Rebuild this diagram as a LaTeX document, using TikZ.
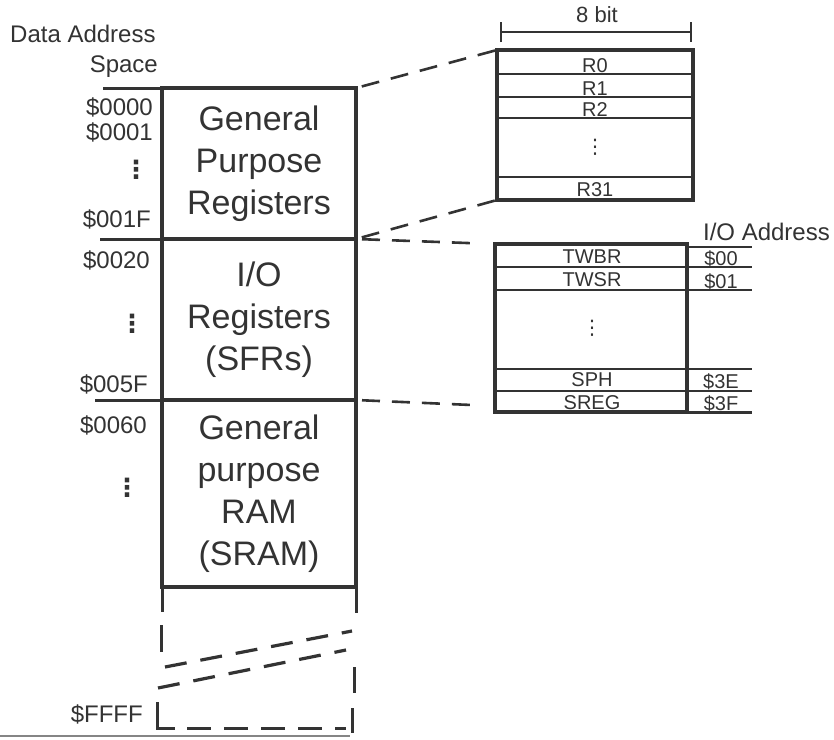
\documentclass[tikz,border=0pt]{standalone}
\usepackage{fontspec}
\setmainfont{Liberation Sans}
\newfontfamily\djv{DejaVu Sans}
\usetikzlibrary{arrows.meta,calc}
\definecolor{ink}{HTML}{333333}
\begin{document}
\begin{tikzpicture}[x=1pt,y=-1pt,
  every node/.style={text=ink},
  memblock/.style={draw=ink,line width=4.8pt,minimum width=194pt,inner sep=0pt,outer sep=0pt,align=center,
     font=\fontsize{34}{42}\selectfont},
  regblock/.style={draw=ink,line width=4.2pt,inner sep=0pt,outer sep=0pt},
  addr/.style={font=\fontsize{24}{24}\selectfont,anchor=base east,inner sep=0pt},
  small/.style={font=\fontsize{20}{20}\selectfont,anchor=base,inner sep=0pt},
  thinline/.style={draw=ink,line width=1.8pt},
  tick/.style={draw=ink,line width=3pt},
  conn/.style={draw=ink,line width=2.6pt,dash pattern=on 18pt off 12pt},
  brk/.style={draw=ink,line width=3.2pt,dash pattern=on 22pt off 14pt},
  dotcol/.style={font=\djv\bfseries\fontsize{25}{25}\selectfont,inner sep=0pt},
  dotsm/.style={font=\djv\fontsize{20}{20}\selectfont,inner sep=0pt}]
\useasboundingbox[fill=white] (0,0) rectangle (834,739);

% main memory map
\node[memblock,minimum height=151pt] (gpr) at (259,163.5) {General\\Purpose\\Registers};
\node[memblock,minimum height=161pt] (io) at (259,319.5) {I/O\\Registers\\(SFRs)};
\node[memblock,minimum height=187pt] (sram) at (259,493.5) {General\\purpose\\RAM\\(SRAM)};

% left ticks
\coordinate (t0) at (103,88);
\coordinate (t1) at (100,239);
\coordinate (t2) at (95,400);
\draw[tick] (t0) -- (gpr.north west);
\draw[tick] (t1) -- (gpr.south west);
\draw[tick] (t2) -- (io.south west);

% left labels
\node[font=\fontsize{24}{24}\selectfont,anchor=base west,inner sep=0pt] (das) at (10,42) {Data Address};
\node[addr] (spc) at (158,72) {Space};
\node[addr] (a0) at (153,115) {\$0000};
\node[addr] (a1) at (153,140) {\$0001};
\node[dotcol] (d1) at (136,170) {⋮};
\node[addr] (a1f) at (151,227) {\$001F};
\node[addr] (a20) at (150,268) {\$0020};
\node[dotcol] (d2) at (132,324) {⋮};
\node[addr] (a5f) at (148,392) {\$005F};
\node[addr] (a60) at (147,433) {\$0060};
\node[dotcol] (d3) at (127,488) {⋮};
\node[addr] (aff) at (143,722) {\$FFFF};

% broken continuation below SRAM
\coordinate (sl1) at (162,612);
\coordinate (sr1) at (356,613);
\draw[tick] (sram.south west) -- (sl1);
\draw[tick] (sram.south east) -- (sr1);
\coordinate (l2a) at (161,625);
\coordinate (l2b) at (161,652);
\draw[tick] (l2a) -- (l2b);
\coordinate (u1) at (165,667);
\coordinate (u2) at (352,631);
\coordinate (w1) at (158,688);
\coordinate (w2) at (346,650);
\draw[brk] (u1) -- (u2);
\draw[brk] (w1) -- (w2);
\coordinate (r2a) at (354,667);
\coordinate (r2b) at (354,693);
\draw[tick] (r2a) -- (r2b);
\coordinate (b1) at (157,702);
\coordinate (b2) at (157,728);
\coordinate (b3) at (175,728);
\draw[tick] (b1) -- (b2) -- (b3);
\coordinate (b4) at (187,728);
\coordinate (b5) at (346,728);
\draw[tick,dash pattern=on 24pt off 13pt] (b4) -- (b5);
\coordinate (r3a) at (352,708);
\coordinate (r3b) at (352,733);
\draw[tick] (r3a) -- (r3b);

% page rule
\coordinate (pr1) at (0,736);
\coordinate (pr2) at (350,736);
\draw[ink!60,line width=1.5pt] (pr1) -- (pr2);

% register file
\node[regblock,minimum width=196pt,minimum height=150pt] (regs) at (595,125) {};
\foreach \yy in {74,97,118,177} \draw[thinline] (regs.west |- 0,\yy) -- (regs.east |- 0,\yy);
\node[small] (r0) at (595,72) {R0};
\node[small] (r1) at (595,95) {R1};
\node[small] (r2) at (595,116) {R2};
\node[dotsm] (rd) at (595,147) {⋮};
\node[small] (r31) at (595,196) {R31};

% 8 bit dimension
\coordinate (bl) at (500,32);
\coordinate (br) at (692,32);
\draw[draw=ink,line width=2.2pt,{Bar[width=20pt,line width=2.2pt]}-{Bar[width=20pt,line width=2.2pt]}] (bl) -- (br);
\node[font=\fontsize{22}{22}\selectfont,anchor=base,inner sep=0pt] (eb) at (597,22) {8 bit};

% I/O register file
\node[regblock,minimum width=192pt,minimum height=168pt] (iob) at (591,328) {};
\foreach \yy in {267,290,369,391} \draw[thinline] (iob.west |- 0,\yy) -- (iob.east |- 0,\yy);
\foreach \yy in {247,267,290,369,391} \draw[thinline] (iob.east |- 0,\yy) -- (752,\yy);
\draw[draw=ink,line width=3pt] (iob.south east) -- (752,412);
\node[small] (twbr) at (592,263) {TWBR};
\node[small] (twsr) at (592,286) {TWSR};
\node[dotsm] (iod) at (592,328) {⋮};
\node[small] (sph) at (592,386) {SPH};
\node[small] (sreg) at (592,409) {SREG};
\node[small] (h00) at (721,265) {\$00};
\node[small] (h01) at (721,288) {\$01};
\node[small] (h3e) at (721,388) {\$3E};
\node[small] (h3f) at (721,410) {\$3F};
\node[font=\fontsize{24}{24}\selectfont,anchor=base east,inner sep=0pt] (ioa) at (830,240) {I/O Address};

% dashed connectors
\draw[conn,shorten <=6pt] (gpr.north east) -- (regs.north west);
\draw[conn,shorten <=6pt] (gpr.south east) -- (regs.south west);
\draw[conn,shorten <=6pt,shorten >=18pt] (io.north east) -- (iob.north west);
\draw[conn,shorten <=6pt,shorten >=20pt] (io.south east) -- ($(iob.south west)+(0,-6)$);
\end{tikzpicture}
\end{document}
